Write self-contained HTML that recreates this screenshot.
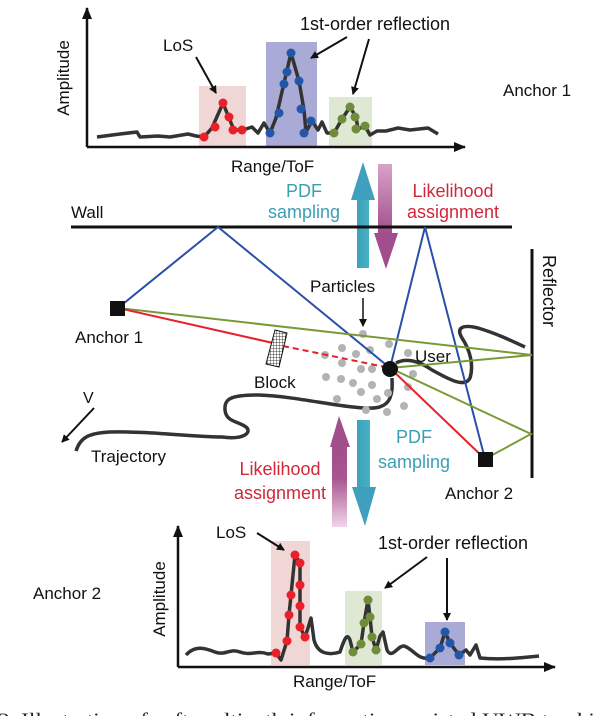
<!DOCTYPE html>
<html><head><meta charset="utf-8"><style>
html,body{margin:0;padding:0;background:#fff;}
svg{display:block;}
text{font-family:"Liberation Sans",sans-serif;}
</style></head><body>
<svg width="614" height="716" viewBox="0 0 614 716" xmlns="http://www.w3.org/2000/svg">
<defs>
<marker id="ah" markerWidth="8" markerHeight="8" refX="7" refY="4" orient="auto" markerUnits="userSpaceOnUse"><path d="M0,0 L8,4 L0,8 Z" fill="#111"/></marker>
<marker id="ah2" markerWidth="12" markerHeight="10" refX="11" refY="5" orient="auto" markerUnits="userSpaceOnUse"><path d="M0,0 L12,5 L0,10 Z" fill="#111"/></marker>
<linearGradient id="mgUp" x1="0" y1="1" x2="0" y2="0"><stop offset="0" stop-color="#f2d4ea"/><stop offset="0.6" stop-color="#a9558f"/><stop offset="1" stop-color="#a24d8c"/></linearGradient>
<linearGradient id="mgDn" x1="0" y1="0" x2="0" y2="1"><stop offset="0" stop-color="#d7a3c8"/><stop offset="1" stop-color="#a24d8c"/></linearGradient>
<linearGradient id="cy" x1="0" y1="0" x2="1" y2="0"><stop offset="0" stop-color="#3f9fbc"/><stop offset="1" stop-color="#45b3c4"/></linearGradient>
<pattern id="hatch" width="3" height="3" patternUnits="userSpaceOnUse"><rect width="3" height="3" fill="#fff"/><path d="M0,0H3M0,0V3" stroke="#111" stroke-width="0.8"/></pattern>
</defs>

<rect x="199" y="86" width="47" height="60" fill="#f1d6d6"/>
<rect x="266" y="42" width="51" height="104" fill="#a9abd6"/>
<rect x="329" y="97" width="43" height="49" fill="#dfe8d2"/>
<path d="M87,147 V8" stroke="#111" stroke-width="2.5" marker-end="url(#ah2)"/>
<path d="M87,147 H465" stroke="#111" stroke-width="2.5" marker-end="url(#ah2)"/>
<path d="M97,137 L120,134 L137,132 L140,137 L158,136 L170,137 L188,134 L196,136 L204,137 L212,128 L223,103 L229,118 L234,130 L243,130 L252,127 L258,133 L264,123 L270,133 L276,118 L284,83 L291,53 L299,81 L304,110 L306,132 L312,121 L318,130 L322,122 L327,133 L334,133 L342,119 L350,107 L356,117 L358,129 L365,126 L370,135 L377,131 L386,131 L398,128 L410,130 L428,128 L438,134" fill="none" stroke="#333" stroke-width="3.5" stroke-linejoin="round"/>
<g fill="#e8202a"><circle cx="204" cy="137" r="4.5"/><circle cx="215" cy="127" r="4.5"/><circle cx="223" cy="103" r="4.5"/><circle cx="229" cy="117" r="4.5"/><circle cx="233" cy="130" r="4.5"/><circle cx="242" cy="130" r="4.5"/></g>
<g fill="#2456a8"><circle cx="291" cy="53" r="4.5"/><circle cx="287" cy="72" r="4.5"/><circle cx="299" cy="81" r="4.5"/><circle cx="284" cy="84" r="4.5"/><circle cx="279" cy="113" r="4.5"/><circle cx="301" cy="109" r="4.5"/><circle cx="270" cy="133" r="4.5"/><circle cx="311" cy="121" r="4.5"/><circle cx="304" cy="133" r="4.5"/></g>
<g fill="#6e8c3a"><circle cx="334" cy="133" r="4.5"/><circle cx="342" cy="119" r="4.5"/><circle cx="350" cy="107" r="4.5"/><circle cx="355" cy="117" r="4.5"/><circle cx="356" cy="129" r="4.5"/><circle cx="365" cy="126" r="4.5"/></g>
<text x="163" y="51" font-size="17" fill="#111">LoS</text>
<path d="M196,57 L216,93" stroke="#111" stroke-width="2" marker-end="url(#ah)"/>
<text x="300" y="30" font-size="18" fill="#111">1st-order reflection</text>
<path d="M347,37 L311,58" stroke="#111" stroke-width="2" marker-end="url(#ah)"/>
<path d="M369,39 L353,94" stroke="#111" stroke-width="2" marker-end="url(#ah)"/>
<text x="503" y="96" font-size="17" fill="#111">Anchor 1</text>
<text transform="translate(69,78) rotate(-90)" text-anchor="middle" font-size="17" fill="#111">Amplitude</text>
<text x="231" y="172" font-size="17" fill="#111">Range/ToF</text>

<rect x="357" y="198" width="12" height="70" fill="url(#cy)"/>
<path d="M351,200 L363,162 L375,200 Z" fill="#3f9fbc"/>
<rect x="378" y="164" width="14" height="70" fill="url(#mgDn)"/>
<path d="M374,233 L398,233 L386,269 Z" fill="#a24d8c"/>
<text x="304" y="197" font-size="18" fill="#3a9fb5" text-anchor="middle">PDF</text>
<text x="304" y="218" font-size="18" fill="#3a9fb5" text-anchor="middle">sampling</text>
<text x="453" y="197" font-size="18" fill="#d0283a" text-anchor="middle">Likelihood</text>
<text x="453" y="218" font-size="18" fill="#d0283a" text-anchor="middle">assignment</text>
<text x="71" y="218" font-size="17" fill="#111">Wall</text>
<line x1="71" y1="227" x2="512" y2="227" stroke="#111" stroke-width="3"/>

<line x1="532" y1="249" x2="532" y2="478" stroke="#111" stroke-width="3"/>
<text transform="translate(543,255) rotate(90)" font-size="18" fill="#111">Reflector</text>

<path d="M76,451 C80,438 88,433 110,432 C150,431 190,437 222,437 C245,440 252,432 246,427 C238,421 226,422 225,410 C224,398 232,395 259,395 C290,396 330,405 353,407 C370,409 385,410 390,398 C393,390 392,384 392,378" fill="none" stroke="#333" stroke-width="3.5"/>
<path d="M396,363 C405,358 418,360 432,370 C450,380 465,388 470,378 C474,365 470,350 462,338 C456,328 462,324 478,328 C495,333 510,340 525,347" fill="none" stroke="#333" stroke-width="3.5"/>

<g fill="#b3b3b3">
<circle cx="363" cy="334" r="4"/><circle cx="342" cy="348" r="4"/><circle cx="370" cy="350" r="4"/><circle cx="356" cy="354" r="4"/><circle cx="389" cy="344" r="4"/><circle cx="408" cy="353" r="4"/><circle cx="325" cy="355" r="4"/><circle cx="342" cy="363" r="4"/><circle cx="361" cy="369" r="4"/><circle cx="372" cy="369" r="4"/><circle cx="413" cy="374" r="4"/><circle cx="326" cy="377" r="4"/><circle cx="341" cy="379" r="4"/><circle cx="353" cy="383" r="4"/><circle cx="372" cy="385" r="4"/><circle cx="408" cy="387" r="4"/><circle cx="388" cy="393" r="4"/><circle cx="361" cy="392" r="4"/><circle cx="337" cy="399" r="4"/><circle cx="377" cy="399" r="4"/><circle cx="404" cy="406" r="4"/><circle cx="366" cy="410" r="4"/><circle cx="387" cy="412" r="4"/>
</g>

<g fill="none" stroke-width="2">
<polyline points="118,308 218,227 390,368" stroke="#2a4fa8"/>
<polyline points="390,368 425,227 485,459" stroke="#2a4fa8"/>
<polyline points="118,308 532,355 390,368" stroke="#7a9a3a"/>
<polyline points="390,368 531,434 485,459" stroke="#7a9a3a"/>
<line x1="118" y1="308" x2="273" y2="343" stroke="#e8202a"/>
<line x1="283" y1="346" x2="390" y2="368" stroke="#e8202a" stroke-dasharray="6,4"/>
<line x1="390" y1="368" x2="485" y2="459" stroke="#e8202a"/>
</g>
<polygon points="275,330 287,333 279,367 266,364" fill="url(#hatch)" stroke="#111" stroke-width="1"/>
<rect x="110" y="301" width="15" height="15" fill="#111"/>
<rect x="478" y="452" width="15" height="15" fill="#111"/>
<circle cx="390" cy="369" r="8" fill="#111"/>

<text x="310" y="292" font-size="17" fill="#111">Particles</text>
<path d="M363,298 L363,326" stroke="#111" stroke-width="1.5" marker-end="url(#ah)"/>
<text x="415" y="362" font-size="17" fill="#111">User</text>
<text x="254" y="388" font-size="17" fill="#111">Block</text>
<text x="75" y="343" font-size="17" fill="#111">Anchor 1</text>
<text x="91" y="462" font-size="17" fill="#111">Trajectory</text>
<text x="83" y="403" font-size="16" fill="#111">V</text>
<path d="M94,408 L62,442" stroke="#111" stroke-width="2" marker-end="url(#ah)"/>
<text x="445" y="499" font-size="17" fill="#111">Anchor 2</text>

<rect x="332" y="446" width="15" height="81" fill="url(#mgUp)"/>
<path d="M330,447 L339,416 L350,447 Z" fill="#a24d8c"/>
<rect x="357" y="420" width="13" height="68" fill="url(#cy)"/>
<path d="M352,487 L376,487 L365,526 Z" fill="#3f9fbc"/>
<text x="280" y="475" font-size="18" fill="#d0283a" text-anchor="middle">Likelihood</text>
<text x="280" y="499" font-size="18" fill="#d0283a" text-anchor="middle">assignment</text>
<text x="414" y="443" font-size="18" fill="#3a9fb5" text-anchor="middle">PDF</text>
<text x="414" y="468" font-size="18" fill="#3a9fb5" text-anchor="middle">sampling</text>

<rect x="271" y="541" width="39" height="124" fill="#f1d6d6"/>
<rect x="345" y="591" width="37" height="74" fill="#dfe8d2"/>
<rect x="425" y="622" width="40" height="43" fill="#a9abd6"/>
<path d="M178,667 V526" stroke="#111" stroke-width="2.5" marker-end="url(#ah2)"/>
<path d="M178,667 H555" stroke="#111" stroke-width="2.5" marker-end="url(#ah2)"/>
<path d="M186,655 C195,645 205,648 215,652 C225,656 230,648 240,652 C250,656 258,650 268,654 L276,653 L281,660 L287,641 L289,615 L291,595 L295,555 L300,563 L300,585 L300,606 L300,627 L305,637 L308,628 L311,618 L314,640 C318,655 330,655 340,652 C344,640 347,632 350,640 L353,652 L361,644 L364,623 L368,600 L370,617 L372,637 L376,650 L380,636 L383,632 L387,650 C392,660 398,645 404,646 C412,648 418,660 428,658 L430,658 L440,648 L445,632 L450,643 L459,655 L466,650 L470,655 L476,645 L480,658 C500,660 520,658 539,656" fill="none" stroke="#333" stroke-width="3.5" stroke-linejoin="round"/>
<g fill="#e8202a"><circle cx="276" cy="653" r="4.5"/><circle cx="287" cy="641" r="4.5"/><circle cx="289" cy="615" r="4.5"/><circle cx="291" cy="595" r="4.5"/><circle cx="295" cy="555" r="4.5"/><circle cx="300" cy="563" r="4.5"/><circle cx="300" cy="585" r="4.5"/><circle cx="300" cy="606" r="4.5"/><circle cx="300" cy="627" r="4.5"/><circle cx="305" cy="637" r="4.5"/></g>
<g fill="#6e8c3a"><circle cx="353" cy="652" r="4.5"/><circle cx="361" cy="644" r="4.5"/><circle cx="364" cy="623" r="4.5"/><circle cx="368" cy="600" r="4.5"/><circle cx="370" cy="617" r="4.5"/><circle cx="372" cy="637" r="4.5"/><circle cx="376" cy="650" r="4.5"/></g>
<g fill="#2456a8"><circle cx="430" cy="658" r="4.5"/><circle cx="440" cy="648" r="4.5"/><circle cx="445" cy="632" r="4.5"/><circle cx="450" cy="643" r="4.5"/><circle cx="459" cy="655" r="4.5"/></g>
<text x="216" y="538" font-size="17" fill="#111">LoS</text>
<path d="M257,533 L284,550" stroke="#111" stroke-width="2" marker-end="url(#ah)"/>
<text x="378" y="549" font-size="18" fill="#111">1st-order reflection</text>
<path d="M427,557 L385,588" stroke="#111" stroke-width="2" marker-end="url(#ah)"/>
<path d="M447,558 L447,620" stroke="#111" stroke-width="2" marker-end="url(#ah)"/>
<text x="33" y="599" font-size="17" fill="#111">Anchor 2</text>
<text transform="translate(165,599) rotate(-90)" text-anchor="middle" font-size="17" fill="#111">Amplitude</text>
<text x="293" y="687" font-size="17" fill="#111">Range/ToF</text>

<text x="-2" y="726" font-size="19" fill="#222" style="font-family:'Liberation Serif',serif" textLength="620" lengthAdjust="spacingAndGlyphs">2.   Illustration of soft multipath information assisted UWB tracking</text>
</svg>
</body></html>
